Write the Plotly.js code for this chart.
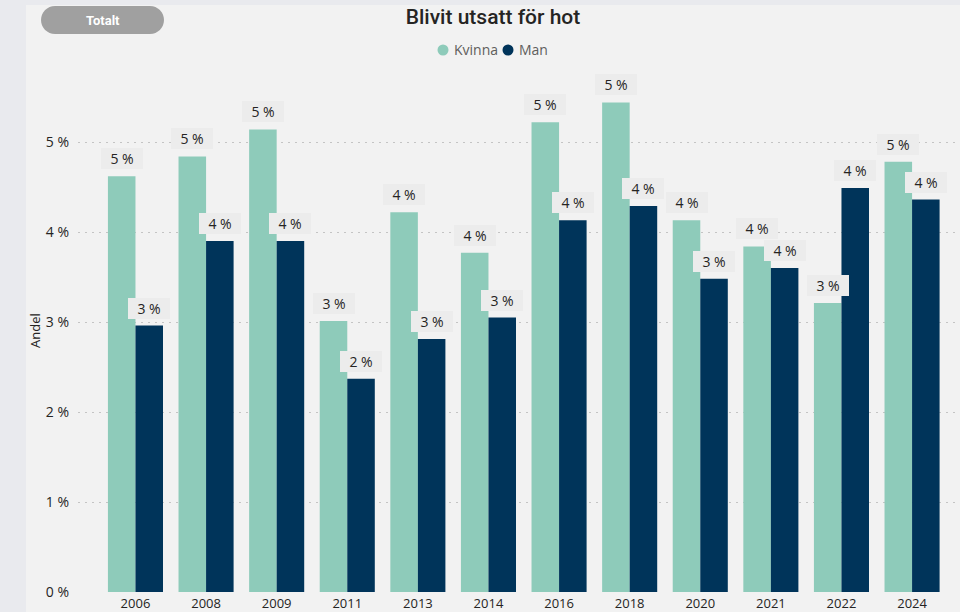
<!DOCTYPE html>
<html>
<head>
<meta charset="utf-8">
<script src="https://cdn.plot.ly/plotly-3.0.1.min.js"></script>
<style>
  html, body { margin: 0; padding: 0; width: 960px; height: 612px; background: #e9eaee; overflow: hidden; }
  #panel { position: absolute; left: 26px; top: 5px; width: 934px; height: 607px; background: #f2f2f2; overflow: hidden; }
  #chart { width: 934px; height: 607px; }
</style>
</head>
<body>
<div id="panel"><div id="chart"></div></div>
<script>
// ---- data ----
const years = ['2006','2008','2009','2011','2013','2014','2016','2018','2020','2021','2022','2024'];
const kvinna = [4.62, 4.84, 5.14, 3.01, 4.22, 3.77, 5.22, 5.44, 4.13, 3.84, 3.21, 4.78];
const man    = [2.96, 3.90, 3.90, 2.37, 2.81, 3.05, 4.13, 4.29, 3.48, 3.60, 4.49, 4.36];
const yTickVals = [0, 1, 2, 3, 4, 5];
const yTickText = ['0 %', '1 %', '2 %', '3 %', '4 %', '5 %'];
const seriesNames = ['Kvinna', 'Man'];

// ---- styling ----
const colK = '#8ecbba';
const colM = '#00345a';
const textCol = '#252423';
const baseFont = '"Segoe UI", "Open Sans", sans-serif';
const W = 934, H = 607;
const M = {l: 52, r: 0, t: 65, b: 20};
const PW = W - M.l - M.r, PH = H - M.t - M.b;
const px = x => (x - M.l) / PW;
const py = y => 1 - (y - M.t) / PH;
const bargap = 0.22;
const catPx = 70.6;
const off = (1 - bargap) / 4 * catPx;

const traces = [
  {type: 'bar', name: seriesNames[0], x: years, y: kvinna, marker: {color: colK}, hoverinfo: 'x+y'},
  {type: 'bar', name: seriesNames[1], x: years, y: man, marker: {color: colM}, hoverinfo: 'x+y'}
];

const annotations = [];
function addLabels(vals, shift) {
  vals.forEach((v, i) => {
    annotations.push({
      x: i, y: v, xref: 'x', yref: 'y', xshift: shift, yshift: 7,
      yanchor: 'bottom', xanchor: 'center', showarrow: false,
      text: Math.round(v) + ' %',
      font: {family: baseFont, size: 14, color: textCol},
      bgcolor: '#ececec', borderwidth: 0, borderpad: 0, width: 42, height: 21
    });
  });
}
addLabels(kvinna, -off);
addLabels(man, off);

// legend: circles (shapes) + names (annotations)
const legendItems = [
  {name: seriesNames[0], color: colK, cx: 417, tx: 426},
  {name: seriesNames[1], color: colM, cx: 482, tx: 491}
];
const shapes = [];
legendItems.forEach(it => {
  shapes.push({
    type: 'circle', xref: 'paper', yref: 'paper',
    xsizemode: 'pixel', ysizemode: 'pixel',
    xanchor: px(it.cx), yanchor: py(45),
    x0: -5.5, x1: 5.5, y0: -5.5, y1: 5.5,
    fillcolor: it.color, line: {width: 0}, layer: 'above'
  });
  annotations.push({
    xref: 'paper', yref: 'paper', x: px(it.tx), y: py(45), xanchor: 'left', yanchor: 'middle',
    showarrow: false, text: it.name,
    font: {family: baseFont, size: 14, color: '#605e5c'}
  });
});

// y-axis title
annotations.push({
  xref: 'paper', yref: 'paper', x: px(9), y: 0.5, xanchor: 'center', yanchor: 'middle',
  text: 'Andel', textangle: -90, showarrow: false,
  font: {family: baseFont, size: 13, color: textCol}
});
// "Totalt" button text
annotations.push({
  xref: 'paper', yref: 'paper', x: px(76.5), y: py(15), xanchor: 'center', yanchor: 'middle',
  text: '<b>Totalt</b>', showarrow: false,
  font: {family: 'Roboto, sans-serif', size: 13, color: '#ffffff'}
});

// rounded pill for the button
const k = 0.5523 * 14;
const pts = [
  ['M', 29, 1], ['L', 124, 1],
  ['C', 124 + k, 1, 138, 15 - k, 138, 15],
  ['C', 138, 15 + k, 124 + k, 29, 124, 29],
  ['L', 29, 29],
  ['C', 29 - k, 29, 15, 15 + k, 15, 15],
  ['C', 15, 15 - k, 29 - k, 1, 29, 1]
];
let path = '';
pts.forEach(p => {
  path += p[0];
  const c = [];
  for (let j = 1; j < p.length; j += 2) c.push(px(p[j]).toFixed(5) + ',' + py(p[j + 1]).toFixed(5));
  path += c.join(' ') + ' ';
});
path += 'Z';
shapes.push({
  type: 'path', xref: 'paper', yref: 'paper', path: path,
  fillcolor: '#a0a0a0', line: {width: 0}, layer: 'above'
});

const layout = {
  width: W, height: H,
  margin: M,
  paper_bgcolor: '#f2f2f2',
  plot_bgcolor: '#f2f2f2',
  barmode: 'group',
  bargap: bargap,
  bargroupgap: 0,
  showlegend: false,
  font: {family: baseFont, color: textCol},
  title: {
    text: 'Blivit utsatt för hot',
    xref: 'container', x: 0.5, xanchor: 'center',
    yref: 'container', y: 1 - 12 / H, yanchor: 'middle',
    font: {family: 'Roboto, sans-serif', size: 21, weight: 500, color: textCol}
  },
  xaxis: {
    type: 'category',
    range: [-0.814, -0.814 + PW / catPx],
    showgrid: false, zeroline: false, showline: false,
    ticks: '', tickfont: {size: 13, color: textCol},
    ticklabelstandoff: 2
  },
  yaxis: {
    range: [0, PH / 90],
    tickvals: yTickVals, ticktext: yTickText,
    showgrid: true, gridcolor: '#c4c4c4', gridwidth: 1, griddash: '2px,5px',
    zeroline: false, showline: false, ticks: '',
    tickfont: {size: 14, color: textCol},
    ticklabelstandoff: 8
  },
  shapes: shapes,
  annotations: annotations
};

Plotly.newPlot('chart', traces, layout, {displayModeBar: false, staticPlot: true});
</script>
</body>
</html>
